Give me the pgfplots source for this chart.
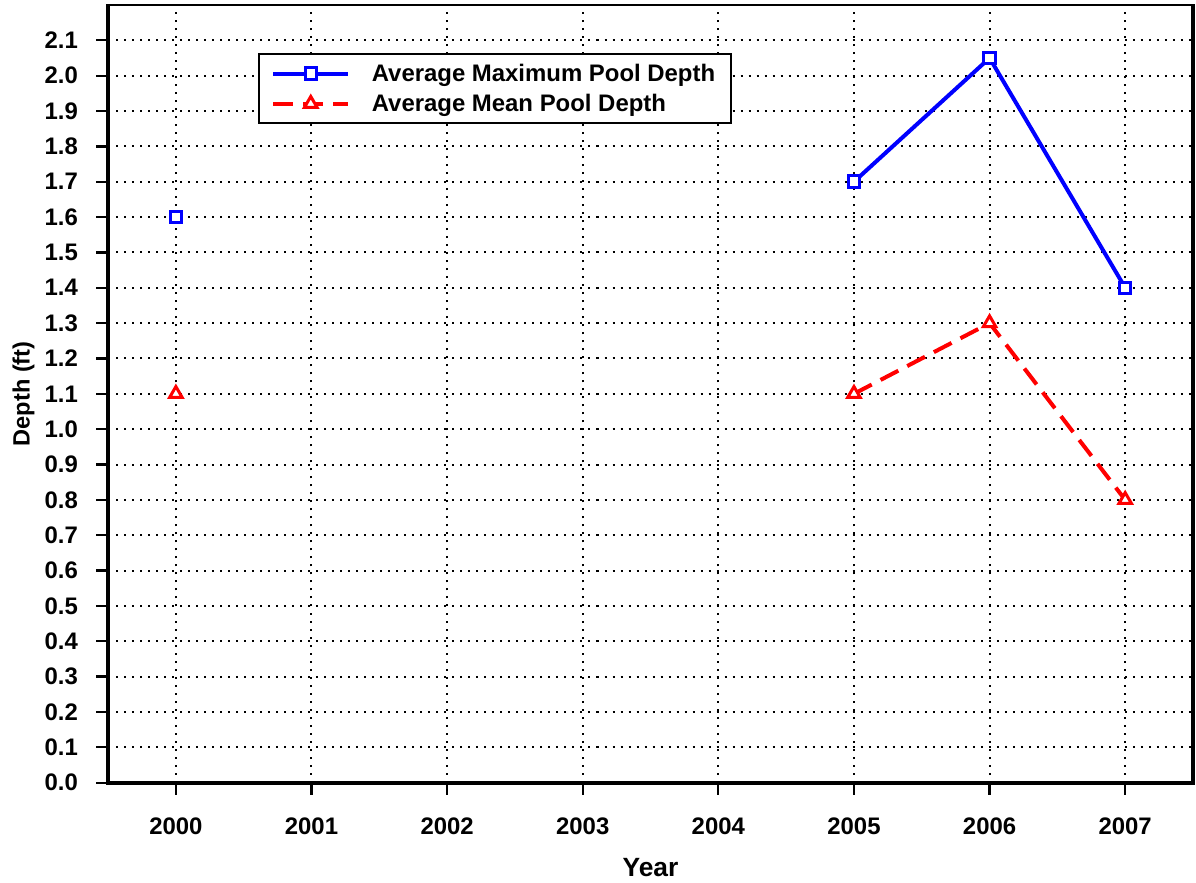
\documentclass[border=0pt]{standalone}
\usepackage{fontspec}
\setmainfont{Liberation Sans}
\usepackage{pgfplots}
\pgfplotsset{compat=1.18}

\begin{document}
\begin{tikzpicture}[x=1mm,y=1mm]
\begin{axis}[
    at={(0,0)}, anchor=origin,
    scale only axis,
    width=216.8mm, height=155.4mm,
    xmin=1999.5, xmax=2007.5,
    ymin=0, ymax=2.2,
    xtick={2000,2001,...,2007},
    ytick={0,0.1,...,2.1},
    /pgf/number format/1000 sep={},
    /pgf/number format/assume math mode=true,
    yticklabel style={/pgf/number format/fixed, /pgf/number format/fixed zerofill, /pgf/number format/precision=1},
    tick label style={font=\fontsize{13.6}{16}\selectfont\bfseries},
    xticklabel style={yshift=-3.4mm},
    yticklabel style={xshift=-2.4mm},
    tick align=outside,
    major tick length=2.4mm,
    tick style={black, line width=0.45mm},
    xtick pos=bottom, ytick pos=left,
    axis line style={draw=none},
    grid=major,
    major grid style={black, line width=0.4mm, dash pattern=on 0.4mm off 1.2mm},
    xlabel={Year},
    ylabel={Depth (ft)},
    xlabel style={font=\fontsize{15}{18}\selectfont\bfseries, yshift=-2.2mm},
    ylabel style={font=\fontsize{13.4}{15}\selectfont\bfseries, yshift=-0.4mm},
    unbounded coords=jump,
    clip=false,
    legend style={at={(0.1384,0.938)}, anchor=north west, draw=black, line width=0.4mm,
        font=\fontsize{13.6}{16}\selectfont\bfseries, inner xsep=2.4mm, inner ysep=1.2mm,
        row sep=0.6mm, cells={anchor=west}},
    legend image code/.code={\draw[mark repeat=2, mark phase=2, #1] plot coordinates {(0mm,0mm) (7.5mm,0mm) (15mm,0mm)};},
    legend cell align=left,
]
\addplot[blue, line width=0.8mm, mark=square*, mark size=1.15mm, mark options={solid, fill=white, line width=0.6mm}]
coordinates {(2000,1.6) (2001,nan) (2005,1.7) (2006,2.05) (2007,1.4)};
\addlegendentry{\hspace{3.6mm}Average Maximum Pool Depth}
\addplot[red, line width=0.8mm, dash pattern=on 4mm off 2mm, mark=triangle*, mark size=1.45mm, mark options={solid, fill=white, line width=0.6mm}]
coordinates {(2000,1.1) (2001,nan) (2005,1.1) (2006,1.3) (2007,0.8)};
\addlegendentry{\hspace{3.6mm}Average Mean Pool Depth}
\end{axis}
% frame: thick left, bottom and right, thin top
\draw[line width=0.8mm] (0,155.4) -- (0,0) -- (216.8,0) -- (216.8,155.4);
\draw[line width=0.4mm] (-0.4,155.4) -- (217.2,155.4);
% blank margins on the left and top, as in the original
\path (-21.6,0) (0,156.4);
\end{tikzpicture}
\end{document}
